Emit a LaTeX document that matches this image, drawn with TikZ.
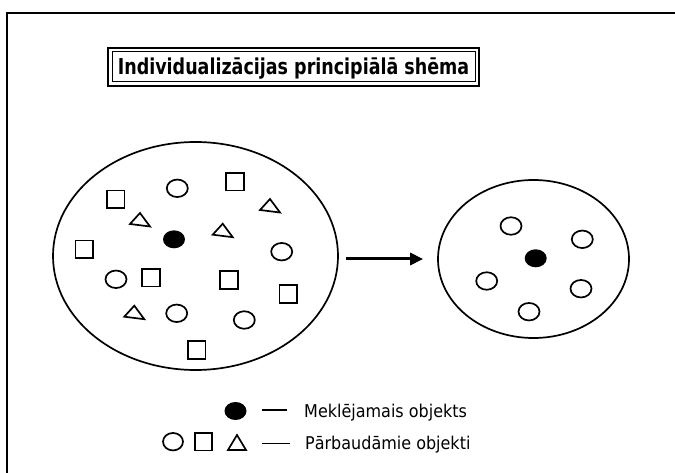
\documentclass[tikz,border=0pt]{standalone}
\usepackage{fontspec}
\setmainfont{DejaVu Sans}
\usetikzlibrary{shapes.geometric,arrows.meta}
\begin{document}
\begin{tikzpicture}[x=1pt,y=1pt,
  ring/.style={draw, ellipse, line width=1.7pt, minimum width=21pt, minimum height=17.5pt, inner sep=0pt},
  sq/.style={draw, rectangle, line width=1.7pt, minimum size=17.5pt, inner sep=0pt},
  blackdot/.style={fill=black, ellipse, minimum width=22pt, minimum height=18pt, inner sep=0pt},
  bigring/.style={draw, ellipse, line width=1.7pt, inner sep=0pt},
  tri/.pic={\draw[line width=1.7pt, line join=miter] (0,7)--(-10,-4)--(10,-6.5)--cycle;},
  uptri/.pic={\draw[line width=1.7pt, line join=miter] (0,7.5)--(-9,-7.5)--(9,-7.5)--cycle;},
  legtext/.style={anchor=base west, inner sep=0pt, font=\fontsize{16}{19}\selectfont},
]
\useasboundingbox (0,0) rectangle (675,-473);
\fill[white] (0,0) rectangle (675,-473);
% frame (open on the right and bottom)
\coordinate (fa) at (7,-473);
\coordinate (fb) at (7,-13);
\coordinate (fc) at (675,-13);
\coordinate (fd) at (6,-13);
\draw[line width=2pt, line cap=butt] (fa) -- (fb);
\draw[line width=2pt, line cap=butt] (fd) -- (fc);
% title
\node[draw, line width=2pt, minimum width=371pt, minimum height=38pt, inner sep=0pt] (titlebox) at (293.5,-67) {};
\node[draw, line width=1pt, minimum width=363pt, minimum height=30pt, inner sep=0pt] (titleinner) at (titlebox.center) {};
\node[anchor=base, inner sep=0pt, font=\bfseries\fontsize{17.5}{20}\selectfont] (title) at (293.5,-75) {\scalebox{1}[1.25]{Individualizācijas principiālā shēma}};
% ellipses
\node[bigring, minimum width=285pt, minimum height=228pt] (big) at (195.5,-256) {};
\node[bigring, minimum width=191pt, minimum height=158pt] (small) at (533.5,-259) {};
\draw[line width=3pt, -{Triangle[length=13pt,width=12pt]}, shorten <=7pt, shorten >=14pt] (big.east |- small.west) -- (small.west);
% big ellipse contents
\node[blackdot] (bd) at (174,-239.3) {};
\node[ring] (c1) at (177.3,-188.3) {};
\node[ring] (c2) at (281.7,-251.7) {};
\node[ring] (c3) at (116,-279.3) {};
\node[ring] (c4) at (176.7,-313.3) {};
\node[ring] (c5) at (244.3,-320) {};
\node[sq] (s1) at (235,-181.7) {};
\node[sq] (s2) at (115.7,-199.3) {};
\node[sq] (s3) at (84.3,-249.3) {};
\node[sq] (s4) at (151,-277.7) {};
\node[sq] (s5) at (229,-280) {};
\node[sq] (s6) at (288.3,-294) {};
\node[sq] (s7) at (196.7,-350) {};
\pic (t1) at (140,-220) {tri};
\pic (t2) at (270,-206) {tri};
\pic (t3) at (222.7,-230.7) {tri};
\pic (t4) at (134.3,-312.7) {tri};
% small ellipse contents
\node[blackdot] (sd) at (535.7,-258.3) {};
\node[ring] (r1) at (511,-226) {};
\node[ring] (r2) at (582.3,-239.3) {};
\node[ring] (r3) at (486.7,-281) {};
\node[ring] (r4) at (581,-288.7) {};
\node[ring] (r5) at (529,-311.7) {};
% legend
\node[blackdot] (ld) at (235.5,-411) {};
\coordinate (l1a) at (262,-410);
\coordinate (l1b) at (287,-410);
\draw[line width=2pt] (l1a) -- (l1b);
\node[legtext] (lt1) at (304,-417.5) {\scalebox{1}[1.1]{Meklējamais objekts}};
\node[ring, minimum width=20pt] (lc) at (173,-441.7) {};
\node[sq] (ls) at (203.5,-441.7) {};
\pic (lt) at (237,-442.5) {uptri};
\coordinate (l2a) at (262,-443);
\coordinate (l2b) at (290,-443);
\draw[line width=1pt] (l2a) -- (l2b);
\node[legtext] (lt2) at (305,-449.5) {\scalebox{1}[1.1]{Pārbaudāmie objekti}};
\end{tikzpicture}
\end{document}
